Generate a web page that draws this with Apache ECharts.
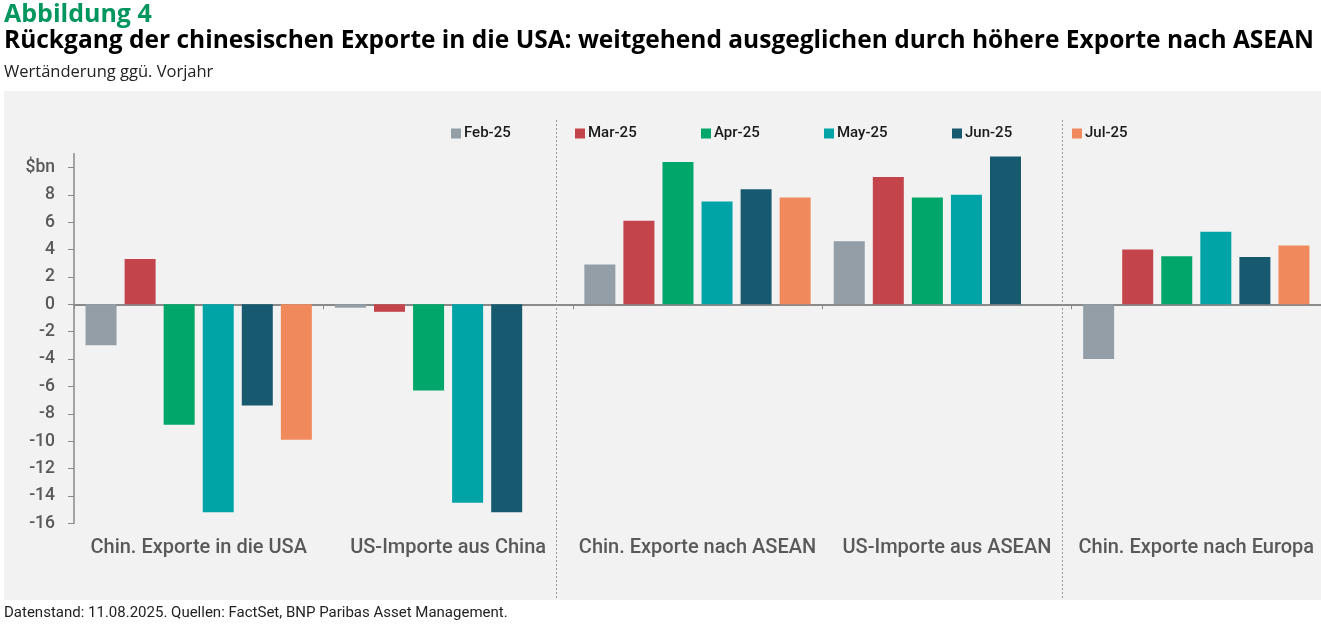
<!DOCTYPE html>
<html>
<head>
<meta charset="utf-8">
<script src="https://cdn.jsdelivr.net/npm/echarts@6/dist/echarts.min.js"></script>
<style>
html,body{margin:0;padding:0;background:#fff;}
#c{width:1321px;height:627px;}
</style>
</head>
<body>
<div id="c"></div>
<script>
var categories = ['Chin. Exporte in die USA', 'US-Importe aus China', 'Chin. Exporte nach ASEAN', 'US-Importe aus ASEAN', 'Chin. Exporte nach Europa'];
var seriesNames = ['Feb-25', 'Mar-25', 'Apr-25', 'May-25', 'Jun-25', 'Jul-25'];
var feb25 = [-3.0, -0.25, 2.9, 4.6, -4.0];
var mar25 = [3.3, -0.55, 6.1, 9.3, 4.0];
var apr25 = [-8.8, -6.3, 10.4, 7.8, 3.5];
var may25 = [-15.2, -14.5, 7.5, 8.0, 5.3];
var jun25 = [-7.4, -15.2, 8.4, 10.8, 3.45];
var jul25 = [-9.9, null, 7.8, null, 4.3];
var yTickValues = [-16, -14, -12, -10, -8, -6, -4, -2, 0, 2, 4, 6, 8, 10];
var unitLabel = '$bn';

var colors = ['#939ea7', '#c4444c', '#00a66a', '#00a3a6', '#175a70', '#f0895c'];
var allData = [feb25, mar25, apr25, may25, jun25, jul25];
var legendX = [451, 575, 701, 824, 952, 1072];

var chart = echarts.init(document.getElementById('c'), null, {renderer: 'canvas'});
var FONT = 'Roboto, "Noto Sans", sans-serif';
var OPEN = '"Open Sans", sans-serif';

var series = seriesNames.map(function (n, i) {
  return {
    name: n,
    type: 'bar',
    xAxisIndex: 0,
    yAxisIndex: 0,
    data: allData[i],
    barWidth: 31,
    barGap: '26%',
    itemStyle: {color: colors[i]},
    emphasis: {disabled: true}
  };
});

var legends = seriesNames.map(function (n, i) {
  return {
    data: [n],
    left: legendX[i],
    top: 126,
    itemWidth: 10,
    itemHeight: 10,
    icon: 'rect',
    itemGap: 0,
    padding: 0,
    selectedMode: false,
    textStyle: {fontFamily: FONT, fontSize: 15, fontWeight: 500, color: '#1a1a1a', padding: [0, 0, 0, -2]}
  };
});

var option = {
  animation: false,
  backgroundColor: '#ffffff',
  graphic: [
    {type: 'rect', z: -10, silent: true, shape: {x: 4, y: 91, width: 1320, height: 509}, style: {fill: '#f2f2f2'}},
    {type: 'line', z: 1, silent: true, shape: {x1: 556.5, y1: 120, x2: 556.5, y2: 600}, style: {stroke: '#9a9a9a', lineWidth: 1, lineDash: [2, 2]}},
    {type: 'line', z: 1, silent: true, shape: {x1: 1062.5, y1: 120, x2: 1062.5, y2: 600}, style: {stroke: '#9a9a9a', lineWidth: 1, lineDash: [2, 2]}}
  ],
  title: [
    {text: 'Abbildung 4', left: 4, top: 1, padding: 0, textStyle: {fontFamily: OPEN, fontSize: 25, lineHeight: 28, fontWeight: 'bold', color: '#00965e'}},
    {text: 'Rückgang der chinesischen Exporte in die USA: weitgehend ausgeglichen durch höhere Exporte nach ASEAN', left: 4, top: 29, padding: 0, textStyle: {fontFamily: OPEN, fontSize: 24.5, fontWeight: 'bold', color: '#000000'}},
    {text: 'Wertänderung ggü. Vorjahr', left: 4, top: 64, padding: 0, textStyle: {fontFamily: OPEN, fontSize: 16.5, fontWeight: 'normal', color: '#222222'}},
    {text: 'Datenstand: 11.08.2025. Quellen: FactSet, BNP Paribas Asset Management.', left: 4, top: 606, padding: 0, textStyle: {fontFamily: FONT, fontSize: 15, fontWeight: 'normal', color: '#222222'}}
  ],
  legend: legends,
  grid: {left: 74, top: 153.7, width: 1249.3, height: 369.6, containLabel: false},
  xAxis: [
    {
      type: 'category',
      data: categories,
      axisLine: {show: true, onZero: true, lineStyle: {color: '#8a8a8a', width: 2}},
      axisTick: {show: true, length: 5, lineStyle: {color: '#8a8a8a', width: 1}},
      axisLabel: {show: false},
      splitLine: {show: false}
    },
    {
      type: 'category',
      data: categories,
      position: 'bottom',
      axisLine: {show: false, onZero: false},
      axisTick: {show: false},
      axisLabel: {show: true, interval: 0, margin: 15, fontFamily: FONT, fontSize: 20, fontWeight: 500, color: '#595959'},
      splitLine: {show: false}
    }
  ],
  yAxis: [{
    type: 'value',
    min: -16,
    max: 11,
    interval: 2,
    axisLine: {show: true, lineStyle: {color: '#8a8a8a', width: 1.5}},
    axisTick: {show: true, length: 6, customValues: yTickValues, lineStyle: {color: '#8a8a8a'}},
    axisLabel: {
      show: true,
      customValues: yTickValues,
      margin: 19,
      fontFamily: FONT,
      fontSize: 17.5,
      fontWeight: 500,
      color: '#595959',
      formatter: function (v) { return v === 10 ? unitLabel : (v === 11 ? '' : String(v)); }
    },
    splitLine: {show: false}
  }],
  series: series
};
chart.setOption(option);
</script>
</body>
</html>
